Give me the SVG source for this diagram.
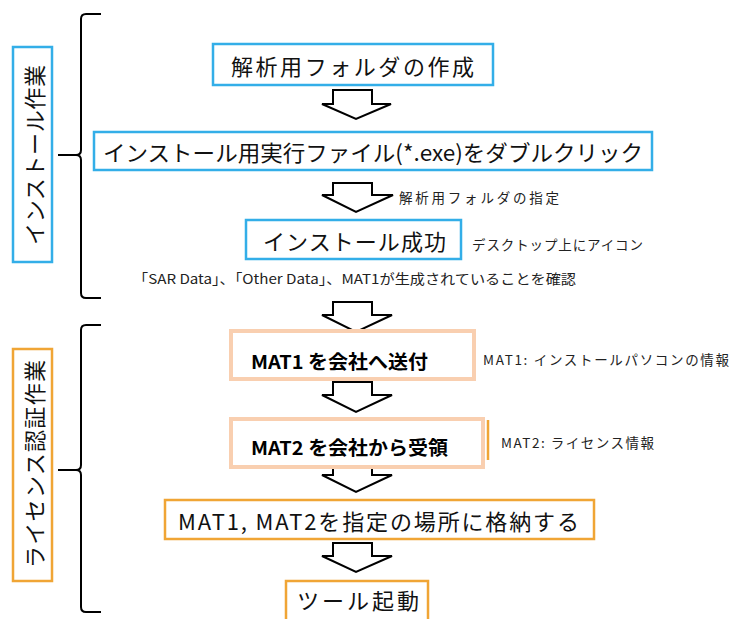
<svg xmlns="http://www.w3.org/2000/svg" width="732" height="619" viewBox="0 0 732 619">
<style>
.bg{fill:#ffffff}
.blue{fill:#ffffff;stroke:#33aee8;stroke-width:2.5}
.orange{fill:#ffffff;stroke:#f0a535;stroke-width:2.5}
.peach{fill:#ffffff;stroke:#f9cfb0;stroke-width:4}
.arrow{fill:#ffffff;stroke:#000000;stroke-width:2;stroke-linejoin:miter}
.brace{fill:none;stroke:#000000;stroke-width:2}
.t{font-family:"Noto Sans CJK JP","Liberation Sans",sans-serif;font-size:22px;fill:#111111;dominant-baseline:central;text-anchor:middle}
.b{font-family:"Noto Sans CJK JP","Liberation Sans",sans-serif;font-size:19px;font-weight:bold;fill:#000000;dominant-baseline:central}
.s{font-family:"Noto Sans CJK JP","Liberation Sans",sans-serif;font-size:13.5px;fill:#222222;dominant-baseline:central}
</style>
<rect class="bg" x="0" y="0" width="732" height="619"/>

<g id="braces">
<path class="brace" d="M101,14 H86 Q81,14 81,19 V150 Q81,155 76,155 H58 M76,155 Q81,155 81,160 V293 Q81,298 86,298 H101"/>
<path class="brace" d="M101,325 H86 Q81,325 81,330 V465 Q81,470 76,470 H58 M76,470 Q81,470 81,475 V607 Q81,612 86,612 H101"/>
</g>

<g id="connectors">
<path class="arrow" d="M333,90 H372 V104 H391 L356,119 L322,104 H333 Z"/>
<path class="arrow" d="M333,183 H372 V195 H393 L356,212 L322,195 H333 Z"/>
<path class="arrow" d="M333,302 H372 V315 H392 L356,332 L322,315 H333 Z"/>
<path class="arrow" d="M333,382 H372 V395 H392 L356,412 L322,395 H333 Z"/>
<path class="arrow" d="M333,462 H372 V475 H392 L356,492 L322,475 H333 Z"/>
<path class="arrow" d="M333,543 H372 V556 H392 L356,572 L322,556 H333 Z"/>
</g>

<g id="label-install">
<rect class="blue" x="13" y="47" width="39" height="215"/>
<text class="t" transform="translate(33,155) rotate(-90)" textLength="180" lengthAdjust="spacing">インストール作業</text>
</g>

<g id="label-license">
<rect class="orange" x="13" y="349" width="39" height="232"/>
<text class="t" transform="translate(33,464) rotate(-90)" textLength="208" lengthAdjust="spacing">ライセンス認証作業</text>
</g>

<g id="node-folder">
<rect class="blue" x="213" y="44" width="280" height="41"/>
<text class="t" x="352.5" y="64.5" textLength="243" lengthAdjust="spacing">解析用フォルダの作成</text>
</g>

<g id="node-exe">
<rect class="blue" x="94" y="132" width="558" height="38"/>
<text class="t" x="373" y="151" textLength="540" lengthAdjust="spacingAndGlyphs">インストール用実行ファイル(*.exe)をダブルクリック</text>
</g>

<g id="note-folder">
<text class="s" x="399" y="197" textLength="160" lengthAdjust="spacing">解析用フォルダの指定</text>
</g>

<g id="node-success">
<rect class="blue" x="246" y="220" width="215" height="39"/>
<text class="t" x="354.5" y="239.5" textLength="183" lengthAdjust="spacing">インストール成功</text>
</g>

<g id="note-icon">
<text class="s" x="472" y="244" textLength="171" lengthAdjust="spacing">デスクトップ上にアイコン</text>
</g>

<g id="note-data">
<text class="s" x="133" y="278" textLength="443" lengthAdjust="spacingAndGlyphs">「SAR Data」、「Other Data」、MAT1が生成されていることを確認</text>
</g>

<g id="node-mat1">
<rect class="peach" x="231" y="331" width="243" height="48"/>
<text class="b" x="251" y="360" textLength="177" lengthAdjust="spacingAndGlyphs">MAT1 を会社へ送付</text>
</g>

<g id="note-mat1">
<text class="s" x="483" y="358.5" textLength="246" lengthAdjust="spacing">MAT1: インストールパソコンの情報</text>
</g>

<g id="node-mat2">
<line x1="488" y1="420" x2="488" y2="460" stroke="#f0a535" stroke-width="2.5"/>
<rect class="peach" x="231" y="419" width="252" height="48"/>
<text class="b" x="251" y="446" textLength="197" lengthAdjust="spacingAndGlyphs">MAT2 を会社から受領</text>
</g>

<g id="note-mat2">
<text class="s" x="501" y="441.5" textLength="153" lengthAdjust="spacing">MAT2: ライセンス情報</text>
</g>

<g id="node-store">
<rect class="orange" x="165" y="500" width="429" height="39"/>
<text class="t" x="378.5" y="519.5" textLength="401" lengthAdjust="spacing">MAT1, MAT2を指定の場所に格納する</text>
</g>

<g id="node-launch">
<rect class="orange" x="286" y="581" width="142" height="45"/>
<text class="t" x="358" y="599" textLength="122" lengthAdjust="spacing">ツール起動</text>
</g>
</svg>
